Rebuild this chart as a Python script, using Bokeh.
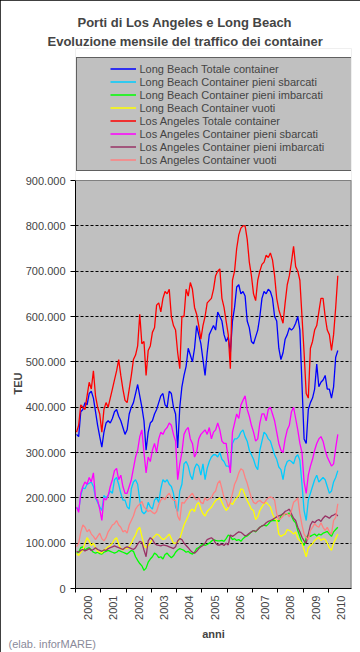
import numpy as np
from bokeh.plotting import figure
from bokeh.models import (FixedTicker, Legend, LegendItem, Range1d, Title, LinearAxis, Span)
from bokeh.embed import file_html
from bokeh.resources import INLINE

# ---------------- data (thousand TEU, monthly Jan 2000 - May 2010) ----------------
years = list(range(2000, 2011))
y_ticks = [0, 100000, 200000, 300000, 400000, 500000, 600000, 700000, 800000, 900000]
y_tick_labels = ["0", "100.000", "200.000", "300.000", "400.000", "500.000",
                 "600.000", "700.000", "800.000", "900.000"]

lb_totale = [340, 335, 390, 395, 410, 405, 430, 435, 420, 390, 360, 335,
             312, 345, 365, 370, 365, 375, 390, 395, 380, 370, 355, 340,
             350, 385, 400, 410, 430, 450, 425, 400, 370, 305, 345, 365,
             370, 385, 395, 410, 425, 430, 405, 400, 435, 430, 400, 385,
             310, 400, 445, 470, 490, 530, 515, 500, 530, 580, 560, 540,
             505, 470, 520, 560, 570, 580, 570, 610, 600, 590, 560, 545,
             555, 520, 590, 620, 665, 670, 650, 655, 645, 590, 575, 545,
             540, 555, 570, 600, 640, 655, 650, 660, 655, 640, 600, 590,
             530, 505, 520, 550, 560, 575, 570, 575, 585, 600, 570, 450,
             330, 320, 395, 410, 420, 440, 495, 445, 455, 460, 470, 440,
             440, 420, 445, 510, 525]
lb_sbarcati = [178, 172, 205, 222, 220, 230, 232, 235, 225, 200, 190, 180,
               172, 205, 200, 205, 215, 210, 240, 245, 230, 210, 195, 195,
               180, 175, 220, 235, 240, 230, 195, 170, 165, 170, 190, 180,
               175, 195, 200, 190, 220, 240, 235, 240, 230, 225, 210, 180,
               170, 215, 230, 275, 280, 270, 250, 240, 265, 275, 270, 250,
               275, 240, 265, 280, 290, 295, 295, 290, 300, 285, 280, 270,
               270, 265, 320, 330, 330, 335, 345, 350, 335, 325, 305, 295,
               285, 270, 262, 305, 325, 345, 340, 330, 325, 310, 295, 285,
               268, 262, 240, 268, 280, 283, 280, 275, 290, 295, 283, 230,
               172, 150, 195, 210, 225, 240, 250, 235, 240, 245, 240, 225,
               210, 215, 235, 245, 260]
lb_imbarcati = [78, 80, 90, 92, 85, 88, 90, 85, 80, 78, 80, 77,
                76, 80, 82, 84, 82, 80, 78, 80, 84, 82, 80, 78,
                76, 80, 84, 82, 70, 62, 55, 50, 40, 45, 58, 65,
                70, 78, 75, 68, 70, 65, 75, 78, 72, 68, 72, 80,
                85, 88, 86, 84, 80, 82, 78, 76, 80, 88, 90, 95,
                98, 95, 97, 100, 104, 108, 106, 105, 105, 106, 104, 110,
                118, 115, 108, 110, 106, 108, 104, 110, 114, 116, 120, 125,
                128, 125, 130, 135, 138, 140, 138, 142, 148, 150, 150, 150,
                148, 160, 165, 163, 165, 166, 160, 150, 145, 128, 115, 100,
                95, 112, 118, 115, 118, 120, 116, 120, 118, 122, 124, 126,
                120, 115, 125, 130, 135]
lb_vuoti = [77, 73, 80, 85, 100, 112, 105, 95, 100, 90, 82, 80,
            78, 85, 88, 92, 95, 100, 108, 112, 98, 88, 85, 90,
            88, 92, 100, 110, 118, 130, 135, 115, 95, 90, 95, 100,
            110, 115, 120, 118, 112, 108, 110, 115, 120, 110, 100, 100,
            102, 110, 125, 140, 150, 160, 172, 175, 170, 185, 190, 175,
            165, 160, 170, 175, 179, 187, 194, 197, 200, 190, 180, 172,
            178, 190, 185, 194, 200, 205, 220, 218, 205, 194, 185, 175,
            172, 152, 158, 172, 180, 187, 190, 185, 180, 165, 155, 150,
            120, 115, 118, 120, 130, 128, 125, 120, 125, 110, 105, 100,
            85, 70, 90, 95, 99, 106, 110, 113, 106, 110, 108, 100,
            90, 84, 100, 110, 120]
la_totale = [345, 360, 405, 400, 395, 425, 455, 440, 480, 425, 400, 385,
             345, 395, 410, 400, 420, 440, 460, 480, 505, 470, 440, 415,
             410, 440, 470, 505, 515, 535, 605, 540, 545, 470, 525, 535,
             565, 575, 625, 630, 610, 640, 655, 650, 660, 600, 580, 570,
             520, 485, 600, 600, 660, 645, 675, 660, 620, 605, 580, 550,
             580, 600, 630, 635, 640, 660, 690, 700, 705, 640, 620, 590,
             560, 485, 680, 700, 750, 780, 795, 800, 800, 770, 720, 690,
             650, 635, 680, 700, 715, 720, 735, 730, 740, 725, 690, 640,
             615, 600, 585, 630, 670, 690, 720, 755, 710, 700, 680, 600,
             520, 430, 420, 530, 545, 570, 580, 610, 640, 640, 600, 570,
             560, 525, 560, 620, 690]
la_sbarcati = [180, 168, 210, 225, 235, 230, 245, 235, 255, 200, 195, 175,
               150, 200, 195, 205, 225, 240, 260, 265, 240, 250, 225, 210,
               210, 225, 240, 265, 290, 305, 335, 350, 300, 255, 290, 280,
               305, 320, 300, 330, 345, 340, 350, 355, 365, 360, 340, 325,
               240, 275, 300, 340, 350, 355, 330, 320, 290, 300, 330, 340,
               345, 350, 340, 355, 330, 345, 350, 365, 350, 325, 320, 320,
               285, 255, 345, 365, 385, 375, 405, 415, 425, 395, 380, 360,
               345, 325, 330, 365, 385, 385, 370, 395, 400, 385, 370, 345,
               320, 305, 300, 330, 350, 360, 390, 400, 375, 350, 320, 300,
               235, 210, 250, 270, 285, 305, 320, 330, 335, 325, 305, 290,
               280, 270, 275, 310, 340]
la_imbarcati = [82, 80, 84, 86, 83, 85, 88, 84, 86, 90, 86, 84,
                82, 85, 84, 88, 90, 92, 94, 92, 90, 88, 86, 90,
                92, 90, 88, 86, 90, 98, 104, 102, 85, 70, 105, 112,
                108, 100, 96, 95, 94, 96, 95, 94, 92, 90, 88, 92,
                105, 110, 108, 100, 95, 90, 84, 80, 78, 82, 88, 92,
                95, 100, 108, 110, 112, 108, 100, 96, 96, 98, 95, 100,
                96, 118, 115, 118, 122, 125, 124, 120, 116, 118, 122, 125,
                128, 126, 130, 135, 138, 140, 145, 148, 150, 152, 155, 158,
                160, 162, 165, 170, 172, 175, 165, 155, 150, 135, 125, 113,
                105, 100, 120, 140, 148, 145, 150, 152, 148, 155, 160, 158,
                155, 160, 162, 165, 160]
la_vuoti = [92, 100, 125, 140, 135, 125, 130, 120, 115, 108, 115, 122,
            110, 105, 112, 125, 132, 140, 143, 150, 140, 135, 125, 128,
            122, 140, 150, 160, 175, 182, 186, 192, 180, 175, 170, 172,
            168, 165, 170, 185, 195, 200, 196, 205, 210, 200, 195, 194,
            160, 150, 190, 188, 195, 200, 205, 210, 200, 195, 200, 190,
            187, 200, 194, 198, 200, 210, 215, 232, 238, 220, 200, 195,
            180, 190, 210, 230, 240, 255, 264, 261, 245, 232, 215, 200,
            190, 187, 192, 194, 190, 188, 195, 200, 202, 200, 195, 165,
            152, 155, 160, 165, 165, 158, 172, 190, 194, 200, 165, 140,
            120, 113, 108, 128, 135, 143, 138, 135, 145, 135, 128, 135,
            125, 120, 150, 157, 187]

series = [
    ("Long Beach Totale container", lb_totale, "#0000FF"),
    ("Long Beach Container pieni sbarcati", lb_sbarcati, "#00CCFF"),
    ("Long Beach Container pieni imbarcati", lb_imbarcati, "#00FF00"),
    ("Long Beach Container vuoti", lb_vuoti, "#FFFF00"),
    ("Los Angeles Totale container", la_totale, "#FF0000"),
    ("Los Angeles Container pieni sbarcati", la_sbarcati, "#FF00FF"),
    ("Los Angeles Container pieni imbarcati", la_imbarcati, "#993366"),
    ("Los Angeles Container vuoti", la_vuoti, "#FF8080"),
]
credit_text = "(elab. inforMARE)"
FONT = "Liberation Sans"

# ---------------- layout (pixels) ----------------
W, H = 360, 652
FRAME_L, FRAME_R, FRAME_T, FRAME_B = 75, 351, 48, 588
PLOT_T = 180                       # top of the grey plot area (900.000)
LEGEND_BOTTOM = 171
Y_MAX = y_ticks[-1]
y_top = Y_MAX * (FRAME_B - FRAME_T) / (FRAME_B - PLOT_T)
units_per_px = Y_MAX / (FRAME_B - PLOT_T)
x_end = 2000 + 131 / 12

p = figure(width=W, height=H, output_backend="svg", toolbar_location=None, tools="",
           x_range=Range1d(2000, x_end), y_range=Range1d(0, y_top),
           min_border_left=FRAME_L, min_border_right=W - FRAME_R,
           min_border_top=FRAME_T, min_border_bottom=H - FRAME_B,
           background_fill_color="#C0C0C0", border_fill_color="white", title=None)
p.outline_line_color = None
p.styles = {"outline": "2px solid black", "outline-offset": "-2px"}

# white area above the plot area (legend zone), a bit wider than the frame
pad_x = (x_end - 2000) * 0.05
p.quad(left=[2000 - pad_x], right=[x_end + pad_x], bottom=[Y_MAX], top=[y_top * 1.05],
       fill_color="white", line_color=None, level="underlay")
# grey border top/right of plot area
p.add_layout(Span(location=Y_MAX, dimension="width", line_color="#808080", line_width=1))
p.segment(x0=[x_end], y0=[0], x1=[x_end], y1=[Y_MAX], line_color="#808080", line_width=2)

items = []
for name, vals, col in series:
    xs = [2000 + (i + 0.5) / 12 for i in range(len(vals))]
    ys = [v * 1000 for v in vals]
    p.line(xs, ys, line_color=col, line_width=1.3)
    twin = p.line(xs, ys, line_color=col, line_width=1.5, visible=False,
                  line_dash="26 400", line_dash_offset=397)
    items.append(LegendItem(label=name, renderers=[twin]))

# grid
p.xgrid.visible = False
p.ygrid.ticker = FixedTicker(ticks=y_ticks[1:-1])
p.ygrid.grid_line_color = "black"
p.ygrid.grid_line_dash = "3 2"
p.ygrid.grid_line_width = 1

# y axis
ya = p.yaxis[0]
ya.ticker = FixedTicker(ticks=y_ticks)
ya.bounds = (0, Y_MAX)
ya.major_label_overrides = {t: l for t, l in zip(y_ticks, y_tick_labels)}
ya.major_tick_out = 5
ya.major_tick_in = 0
ya.minor_tick_out = 0
ya.minor_tick_in = 0
ya.major_label_standoff = 5
ya.major_label_text_font = FONT
ya.major_label_text_font_size = "11px"
ya.axis_line_color = "black"
ya.major_tick_line_color = "black"

# "TEU" as a label-only axis, centred on the plot area
teu_pos = Y_MAX / 2 + 12 * units_per_px
tax = LinearAxis(ticker=FixedTicker(ticks=[teu_pos]), bounds=(0, Y_MAX))
tax.major_label_overrides = {teu_pos: "TEU"}
tax.major_label_orientation = np.pi / 2
tax.major_label_standoff = 5
tax.major_label_text_font = FONT
tax.major_label_text_font_size = "11px"
tax.major_label_text_font_style = "bold"
tax.axis_line_color = None
tax.major_tick_line_color = None
tax.minor_tick_line_color = None
tax.major_tick_out = 0
tax.major_tick_in = 0
tax.minor_tick_out = 0
tax.minor_tick_in = 0
p.add_layout(tax, "left")

# x axis
xa = p.xaxis[0]
xa.ticker = FixedTicker(ticks=[y + 0.5 for y in years], minor_ticks=years)
xa.major_label_overrides = {y + 0.5: str(y) for y in years}
xa.major_label_orientation = np.pi / 2
xa.major_tick_line_color = None
xa.major_tick_out = 0
xa.major_tick_in = 0
xa.minor_tick_out = 4
xa.minor_tick_in = 0
xa.minor_tick_line_color = "black"
xa.major_label_standoff = 3
xa.axis_label = "anni"
xa.axis_label_standoff = 5
xa.axis_label_text_font = FONT
xa.axis_label_text_font_size = "11px"
xa.axis_label_text_font_style = "bold"
xa.major_label_text_font = FONT
xa.major_label_text_font_size = "11px"
xa.axis_line_color = "black"

# credit line, below the x axis, starting at the left edge
credit = Title(text=credit_text, align="left", offset=8 - FRAME_L, vertical_align="top",
               text_font=FONT, text_font_size="11px", text_font_style="normal",
               text_color="#8A8A9A")
try:
    credit.standoff = -9
except Exception:
    credit.standoff = 0
p.add_layout(credit, "below")

# legend inside the (extended) frame, above the plot area
legend = Legend(items=items, location=(0.5, FRAME_B - LEGEND_BOTTOM), orientation="vertical",
                padding=4, margin=0, spacing=0, glyph_width=55, glyph_height=13,
                label_height=13, label_width=208, label_standoff=4,
                label_text_font=FONT, label_text_font_size="11px",
                background_fill_color="#C0C0C0", background_fill_alpha=1,
                border_line_color="black", border_line_width=1)
p.add_layout(legend, "center")

# titles
t2 = Title(text="Evoluzione mensile del traffico dei container", align="left", offset=-28,
           standoff=0, text_font=FONT, text_font_size="13px", text_font_style="bold")
p.add_layout(t2, "above")
t1 = Title(text="Porti di Los Angeles e Long Beach", align="left", offset=2,
           standoff=3, text_font=FONT, text_font_size="13px", text_font_style="bold")
p.add_layout(t1, "above")

open("out.html", "w").write(file_html(p, INLINE))
